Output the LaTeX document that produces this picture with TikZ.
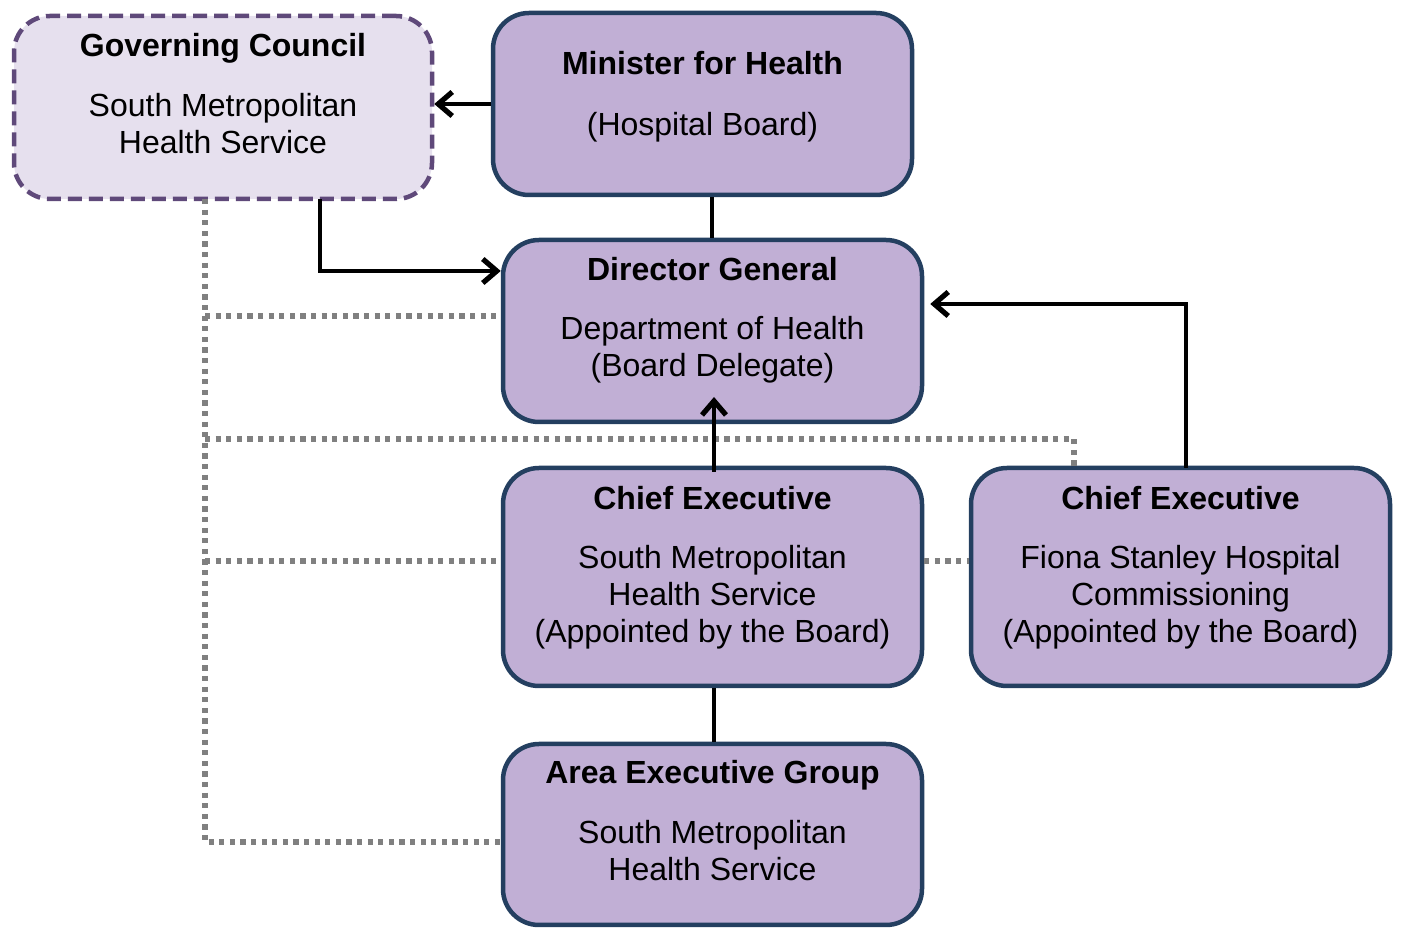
\documentclass[tikz,border=0pt]{standalone}
\usepackage{fontspec}
\setmainfont{Liberation Sans}
\usetikzlibrary{arrows.meta}
\definecolor{boxfill}{HTML}{C1AFD5}
\definecolor{boxline}{HTML}{243F60}
\definecolor{gcfill}{HTML}{E6E0EE}
\definecolor{gcline}{HTML}{5F497A}
\definecolor{dotgray}{HTML}{808080}
\begin{document}
\begin{tikzpicture}[x=0.5pt,y=-0.5pt,
  box/.style={draw=boxline, fill=boxfill, line width=2.25pt, rounded corners=18pt, minimum width=209.5pt, inner sep=0pt},
  gcbox/.style={draw=gcline, fill=gcfill, line width=2.25pt, dash pattern=on 7pt off 3.5pt, rounded corners=18pt, minimum width=209pt, minimum height=91.5pt, inner sep=0pt},
  title/.style={font=\bfseries\fontsize{16}{18.5}\selectfont, align=center, inner sep=0pt},
  body/.style={font=\fontsize{16}{18.5}\selectfont, align=center, inner sep=0pt},
  conn/.style={line width=2.1pt, draw=black, -{Straight Barb[length=7pt,width=12pt,line width=2.6pt]}},
  link/.style={line width=2.1pt, draw=black},
  dotline/.style={draw=dotgray, line width=2.6pt, dash pattern=on 2.6pt off 2.7pt}
]
\useasboundingbox (0,0) rectangle (1404,929);

% boxes
\node[gcbox] (gc) at (223,107.5) {};
\node[box, minimum height=91pt] (min) at (702.5,104) {};
\node[box, minimum height=91pt] (dg) at (712.5,331) {};
\node[box, minimum height=109pt] (ces) at (712.5,577) {};
\node[box, minimum height=109pt] (cef) at (1180.5,577) {};
\node[box, minimum height=90.5pt] (aeg) at (712.5,834.5) {};

% texts
\node[title] (gct) at (223,48) {Governing Council};
\node[body] (gcb) at (223,123.5) {South Metropolitan\\Health Service};
\node[title] (mint) at (702.5,63) {Minister for Health};
\node[body] (minb) at (702.5,127) {(Hospital Board)};
\node[title] (dgt) at (712.5,269) {Director General};
\node[body] (dgb) at (712.5,349.5) {Department of Health\\(Board Delegate)};
\node[title] (cest) at (712.5,498) {Chief Executive};
\node[body] (cesb) at (712.5,597) {South Metropolitan\\Health Service\\(Appointed by the Board)};
\node[title] (ceft) at (1180.5,498) {Chief Executive};
\node[body] (cefb) at (1180.5,597) {Fiona Stanley Hospital\\Commissioning\\(Appointed by the Board)};
\node[title] (aegt) at (712.5,775) {Area Executive Group};
\node[body] (aegb) at (712.5,850.5) {South Metropolitan\\Health Service};

% coordinates
\coordinate (dtop) at (205,199);
\coordinate (dbot) at (205,842);
\coordinate (d316) at (205,316);
\coordinate (d439) at (205,439);
\coordinate (d561) at (205,561);
\coordinate (dcorner) at (1074,439);
\coordinate (gcdrop) at (320,199);
\coordinate (gcarr) at (320,271);
\coordinate (fup) at (1186,468);
\coordinate (fturn) at (1186,304);
\coordinate (cesup) at (714,472);
\coordinate (cestip) at (714,397);

% dotted links
\draw[dotline] (dtop) -- (dbot) -- (dbot -| aeg.west);
\draw[dotline] (d316) -- (d316 -| dg.west);
\draw[dotline] (d439) -- (dcorner) -- (dcorner |- cef.north);
\draw[dotline] (d561) -- (d561 -| ces.west);
\draw[dotline] (d561 -| ces.east) -- (d561 -| cef.west);

% solid connectors
\draw[conn] (min.west) -- (min.west -| gc.east);
\draw[link] (dg.north -| 712,0) -- (min.south -| 712,0);
\draw[conn] (gcdrop) -- (gcarr) -- (gcarr -| dg.west);
\draw[conn] (fup) -- (fturn) -- ([xshift=3pt]fturn -| dg.east);
\draw[conn] (cesup) -- (cestip);
\draw[link] (ces.south -| 714,0) -- (aeg.north -| 714,0);
\end{tikzpicture}
\end{document}
